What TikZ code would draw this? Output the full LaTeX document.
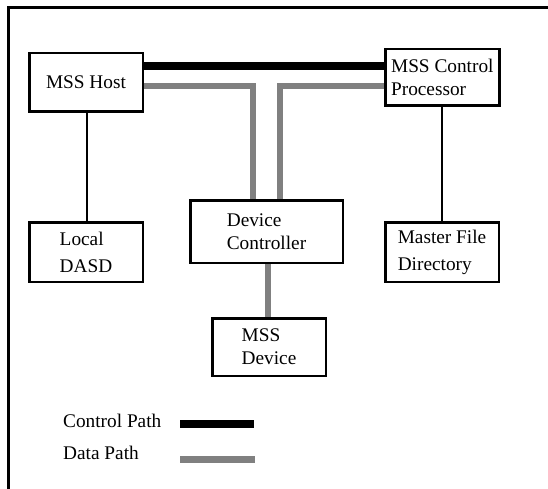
\documentclass[tikz,border=0pt]{standalone}
\usepackage{fontspec}
\setmainfont{Liberation Serif}
\begin{document}
\begin{tikzpicture}[x=1pt,y=-1pt,
  box/.style={draw, line width=2.5pt, inner sep=0pt, align=left,
    font=\fontsize{19.3}{23}\selectfont},
  wide/.style={font=\fontsize{19.3}{27}\selectfont},
  thinlink/.style={line width=2.2pt},
  ctrlpath/.style={line width=8pt, black},
  datapath/.style={line width=6pt, black!50, line join=miter},
  legendtext/.style={anchor=base west, inner sep=0pt, font=\fontsize{19.3}{23}\selectfont}]
\clip (0,0) rectangle (548,489);
% outer frame (right and bottom sides fall outside the page)
\draw[line width=2.2pt] (8.5,7.5) rectangle (600,560);

% components
\node[box, minimum width=113.5pt, minimum height=58.5pt] (host) at (86,82.5) {MSS Host};
\node[box, minimum width=114pt, minimum height=56.5pt] (cp) at (442.3,77.5) {MSS Control\\Processor};
\node[box, minimum width=152.5pt, minimum height=62.5pt] (dc) at (266.5,231.5) {Device\\Controller};
\node[box, wide, minimum width=113.5pt, minimum height=59.5pt] (dasd) at (86,252) {Local\\DASD};
\node[box, wide, minimum width=113.5pt, minimum height=59.5pt] (mfd) at (442,252) {Master File\\Directory};
\node[box, minimum width=113.5pt, minimum height=57.5pt] (dev) at (269,347) {MSS\\Device};

% control path
\draw[ctrlpath] (host.east |- 0,66.5) -- (cp.west |- 0,66.5);
% data paths
\draw[datapath] (host.east |- 0,86) -| (dc.north -| 252.7,0);
\draw[datapath] (cp.west |- 0,86) -| (dc.north -| 280,0);
\draw[datapath] (dc.south -| 267.7,0) -- (dev.north -| 267.7,0);
% local links
\draw[thinlink] (host.south -| 87.3,0) -- (dasd.north -| 87.3,0);
\draw[thinlink] (cp.south -| 441.7,0) -- (mfd.north -| 441.7,0);

% legend
\node[legendtext] (lctrl) at (63,427.7) {Control Path};
\node[legendtext] (ldata) at (63,459.3) {Data Path};
\draw[ctrlpath] (180,424) -- (254,424);
\draw[datapath, line width=7pt] (180,459) -- (254.7,459);
\end{tikzpicture}
\end{document}
